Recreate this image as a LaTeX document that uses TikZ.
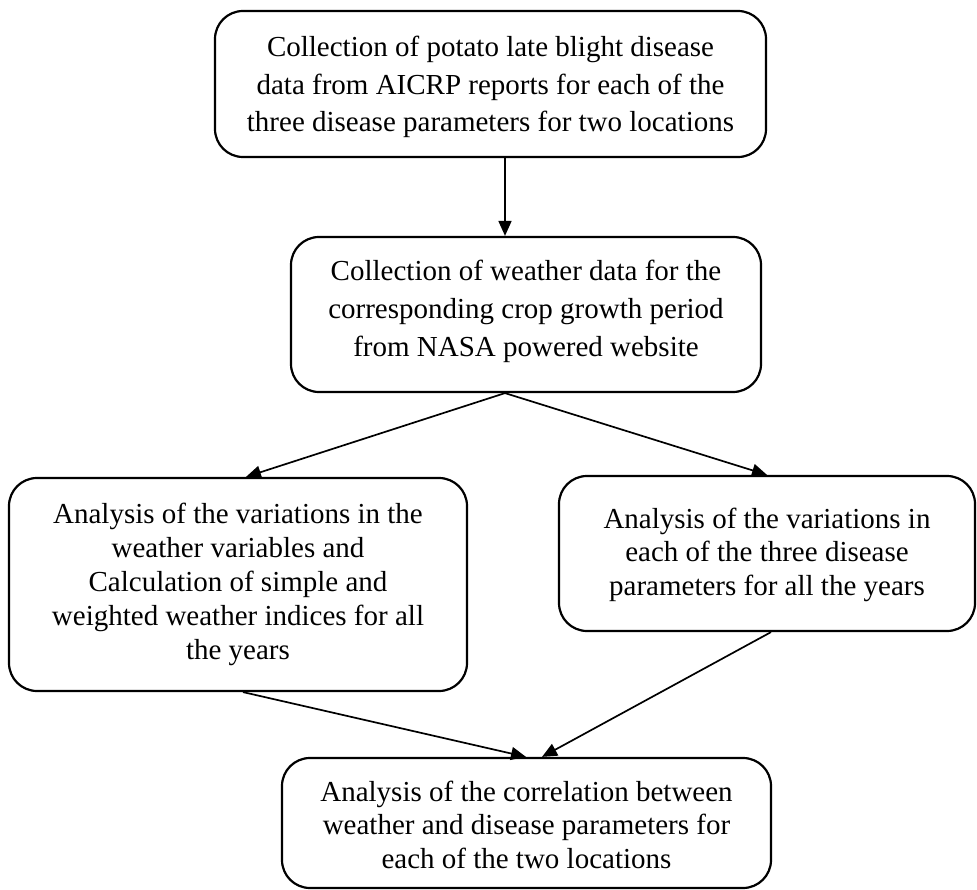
\documentclass[tikz,border=0pt]{standalone}
\usepackage{fontspec}
\setmainfont{Liberation Serif}
\usetikzlibrary{arrows.meta,calc}

% centred lines of text, moved vertically by #1 without changing the node size
\newcommand{\boxtext}[2]{\raisebox{#1}[\height][\depth]{\begin{tabular}{@{}c@{}}#2\end{tabular}}}

\tikzset{
  stepbox/.style={draw=black, line width=2.2pt, rounded corners=28pt,
    inner sep=0pt, font=\fontsize{29}{34}\selectfont},
  flow/.style={draw=black, line width=1.7pt, -{Triangle[length=15pt,width=13pt]}}
}

\begin{document}
\begin{tikzpicture}[x=1pt,y=-1pt]
\useasboundingbox (0,0) rectangle (977,890);

\node[stepbox, minimum width=551pt, minimum height=146pt, font=\fontsize{29}{37.5}\selectfont] (collect) at (490.5,84)
  {\boxtext{-3pt}{Collection of potato late blight disease\\data from AICRP reports for each of the\\three disease parameters for two locations}};

\node[stepbox, minimum width=470pt, minimum height=155pt, font=\fontsize{29}{38}\selectfont] (weather) at (526,314.5)
  {\boxtext{3.5pt}{Collection of weather data for the\\corresponding crop growth period\\from NASA powered website}};

\node[stepbox, minimum width=458pt, minimum height=213pt] (indices) at (238,584.5)
  {\boxtext{0pt}{Analysis of the variations in the\\weather variables and\\Calculation of simple and\\weighted weather indices for all\\the years}};

\node[stepbox, minimum width=416pt, minimum height=155pt, font=\fontsize{29}{33.5}\selectfont] (variation) at (767,553.5)
  {\boxtext{-1.5pt}{Analysis of the variations in\\each of the three disease\\parameters for all the years}};

\node[stepbox, minimum width=489pt, minimum height=130pt, font=\fontsize{29}{33.5}\selectfont] (correl) at (526.5,823)
  {\boxtext{-5pt}{Analysis of the correlation between\\weather and disease parameters for\\each of the two locations}};

% attachment points of the connectors on the box edges
\coordinate (c1out) at ($(collect.south)+(14.5,0)$);
\coordinate (w1in)  at (c1out |- weather.north);
\coordinate (w1out) at ($(weather.south)+(-21,0)$);
\coordinate (i1in)  at ($(indices.north)+(8,0)$);
\coordinate (i1out) at ($(indices.south)+(5,0)$);
\coordinate (v1out) at ($(variation.south)+(4,0)$);
\coordinate (inL)   at ($(correl.north)+(-0.5,0)$);
\coordinate (inR)   at ($(correl.north)+(15.5,0)$);

\draw[flow] (c1out) -- (w1in);
\draw[flow] (w1out) -- (i1in);
\draw[flow] (w1out) -- (variation.north);
\draw[flow] (i1out) -- (inL);
\draw[flow] (v1out) -- (inR);
\end{tikzpicture}
\end{document}
